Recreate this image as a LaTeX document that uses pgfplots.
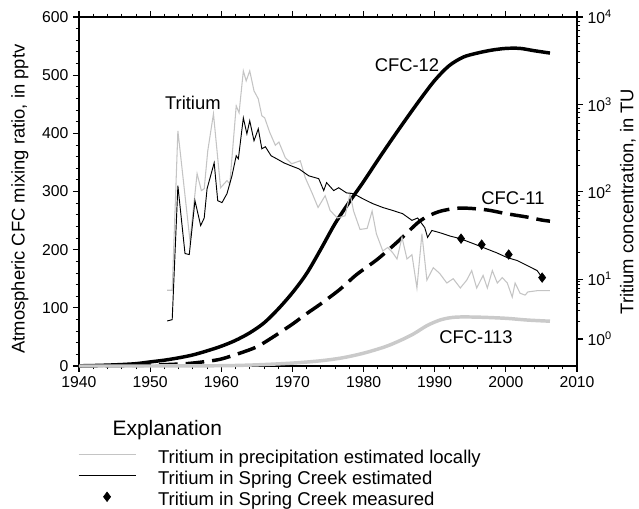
\documentclass[border=0pt]{standalone}
\usepackage{pgfplots}
\pgfplotsset{compat=1.18}
\usepackage{fontspec}
\setmainfont{Liberation Sans}
\definecolor{lgray}{HTML}{C4C4C4}
\definecolor{cgray}{HTML}{CACACA}
\pgfplotsset{
  markimage/.style={legend image code/.code={\draw[##1] plot coordinates {(21.4pt,3.3pt)};}},
}
% right axis of the reference: decades of equal length above 10 TU, a shorter decade below
\newcommand\tutrafo[1]{%
  \begingroup
  \pgfkeys{/pgf/fpu=true,/pgf/fpu/output format=fixed}%
  \pgfmathparse{(#1<10) ? (1-(1-log10(#1))*0.685714) : log10(#1)}%
  \global\let\turesult\pgfmathresult
  \endgroup
  \let\pgfmathresult\turesult}
\begin{document}
\begin{tikzpicture}
\path[use as bounding box] (-59.25pt,-107.25pt) rectangle (420pt,274.5pt);
\pgfplotsset{
  common/.style={
    at={(0,0)}, anchor=south west, scale only axis,
    width=373.5pt, height=261.75pt,
    xmin=1940, xmax=2010, clip=false,
    tick align=outside,
    major tick length=4.5pt, minor tick length=2.5pt,
    axis line style={line width=0.9pt},
    every major tick/.style={black, line width=0.8pt},
    every minor tick/.style={black, line width=0.6pt},
    tick label style={font=\fontsize{11.8}{14}\selectfont},
    /pgf/number format/assume math mode=true,
  }
}
\begin{axis}[common,
  ymin=0, ymax=600,
  xtick={1940,1950,...,2010}, minor x tick num=4,
  ytick={0,100,...,600}, minor y tick num=4,
  xtick pos=both, xticklabel pos=lower, ytick pos=left,
  xticklabel style={/pgf/number format/1000 sep={}},
  ylabel={Atmospheric CFC mixing ratio, in pptv},
  every axis y label/.style={at={(axis description cs:-0.1185,0.4785)}, anchor=center, rotate=90, font=\fontsize{13.8}{16}\selectfont},
]
% CFC-12
\addplot[black, line width=2.6pt, line join=round, smooth] coordinates {
(1940,0.3)(1942,0.8)(1944,1.5)(1946,2.5)(1948,4)(1950,7)(1952,10)(1954,14)(1956,19)(1958,26)(1960,34)(1962,44)(1964,57)(1966,74)(1968,98)(1970,126)(1972,159)(1974,201)(1976,245)(1978,282)(1980,317)(1982,354)(1984,390)(1986,425)(1988,459)(1990,491)(1992,516)(1994,531)(1996,538)(1998,543)(2000,546)(2002,546)(2004,542)(2006.2,538)};
% CFC-11
\addplot[black, line width=2.6pt, dash pattern=on 14pt off 6pt, smooth] coordinates {
(1940,0)(1945,0.5)(1950,1.5)(1955,4)(1958,8)(1960,12)(1962.6,22)(1965,33)(1967.3,50)(1970,72)(1972,90)(1974,107)(1976.7,132)(1979,157)(1982,184)(1985,216)(1988,250)(1990.5,265)(1993,271)(1995,271)(1997.5,268)(2000,262)(2003,256)(2005,251)(2006.2,249)};
% CFC-113
\addplot[cgray, line width=2.6pt, smooth] coordinates {
(1940,0)(1950,0)(1960,0.5)(1965,2)(1970,5)(1974,9)(1977,14)(1980,22)(1983,33)(1985,43)(1987,55)(1989,70)(1991,80)(1993,84)(1996,84)(2000,82)(2003,79)(2006.2,77)};
\node[font=\fontsize{13.8}{16}\selectfont] at (axis cs:1956.0,452) {Tritium};
\node[font=\fontsize{13.8}{16}\selectfont] at (axis cs:1986.1,517) {CFC-12};
\node[font=\fontsize{13.8}{16}\selectfont] at (axis cs:2001.0,289) {CFC-11};
\node[font=\fontsize{13.8}{16}\selectfont] at (axis cs:1995.8,50) {CFC-113};
\end{axis}
\begin{axis}[common,
  y coord trafo/.code={\tutrafo{#1}},
  ymin=0.354, ymax=10000,
  axis x line=none, axis y line*=right,
  ytick={1,10,100,1000,10000},
  yticklabels={{10\textsuperscript{0}},{10\textsuperscript{1}},{10\textsuperscript{2}},{10\textsuperscript{3}},{10\textsuperscript{4}}},
  minor ytick={2,3,4,5,6,7,8,9,20,30,40,50,60,70,80,90,200,300,400,500,600,700,800,900,2000,3000,4000,5000,6000,7000,8000,9000},
  ylabel={Tritium concentration, in TU},
  every axis y label/.style={at={(axis description cs:1.102,0.471)}, anchor=center, rotate=90, font=\fontsize{13.8}{16}\selectfont},
  legend style={at={(axis description cs:-0.002,-0.2364)}, anchor=north west, draw=none, fill=none,
     inner sep=0pt, outer sep=0pt, column sep=16.5pt, row sep=0pt,
     nodes={inner sep=0pt, outer sep=0pt, text height=11pt, text depth=4.8pt, font=\fontsize{13.9}{16}\selectfont}},
  legend cell align=left,
  legend image code/.code={\draw[#1] (0pt,3.3pt) -- (42.75pt,3.3pt);},
]
% Tritium in precipitation
\addplot[lgray, line width=0.8pt] coordinates {
(1952.4,6.5)(1953.1,6.5)(1953.9,498)(1955.6,27.5)(1956.6,161)(1957.2,103)(1957.6,108)(1958.1,294)(1958.9,779)(1959.9,111)(1960.8,134)(1961.2,123)(1962.1,961)(1962.5,800)(1963.1,2415)(1963.5,1857)(1964.0,2415)(1964.6,1427)(1965.2,1156)(1965.7,739)(1966.1,701)(1966.8,480)(1967.6,340)(1968.1,370)(1969.0,245)(1969.9,209)(1971.1,226)(1971.8,145)(1972.8,95)(1973.6,66)(1974.6,90)(1975.3,61)(1976.3,50)(1977.4,53)(1978.1,95)(1978.6,60)(1979.5,37)(1980.5,38)(1981.2,60)(1981.8,33)(1982.7,21)(1983.4,23)(1984.1,20)(1984.7,17)(1985.4,30)(1986.1,17)(1986.8,19)(1987.5,7.1)(1988.2,33)(1988.9,9.6)(1989.8,13.5)(1990.7,11.6)(1991.7,8.6)(1992.6,10.1)(1993.6,7.1)(1994.5,9.6)(1995.2,12.5)(1995.9,7.1)(1996.8,11)(1997.4,7.1)(1998.1,12.5)(1998.8,8.6)(1999.5,10.4)(2000.2,8.6)(2000.9,5.0)(2001.3,8.6)(2002.0,5.8)(2002.7,5.4)(2003.1,6.1)(2004.4,6.4)(2006.2,6.4)};
\addlegendentry{Tritium in precipitation estimated locally}
% Tritium in Spring Creek estimated
\addplot[black, line width=0.7pt] coordinates {
(1952.4,2.0)(1953.1,2.1)(1953.9,117)(1954.9,19.6)(1955.5,19.1)(1956.3,79)(1957.1,41)(1957.6,50)(1958.0,108)(1959.0,214)(1959.5,79)(1960.1,75)(1960.8,95)(1961.5,152)(1962.1,258)(1962.4,238)(1963.1,701)(1963.6,460)(1964.0,648)(1964.6,383)(1965.2,525)(1965.7,310)(1966.2,327)(1967.0,258)(1967.8,238)(1968.8,214)(1969.8,198)(1970.9,183)(1972.3,152)(1973.7,141)(1974.4,103)(1974.8,127)(1975.8,103)(1976.5,111)(1977.6,97)(1978.6,95)(1979.9,83)(1981.3,73)(1982.7,66)(1984.1,61)(1985.5,56)(1986.8,47)(1987.6,50)(1988.6,38.8)(1989.0,30)(1989.6,36)(1990.7,34)(1992.2,31)(1993.6,29)(1995.4,25.5)(1996.8,23)(1998.7,20)(2000.2,17.6)(2001.6,16.3)(2003.0,14.3)(2004.4,12.5)(2005.1,10.4)};
\addlegendentry{Tritium in Spring Creek estimated}
% Measured
\addplot[only marks, mark=diamond*, mark size=3.6pt, black, markimage] coordinates {
(1993.7,29)(1996.6,24.8)(2000.4,19.1)(2005.1,10.4)};
\addlegendentry{Tritium in Spring Creek measured}
\node[anchor=base west, font=\fontsize{15.7}{18}\selectfont] at (axis description cs:0.058,-0.1991) {Explanation};
\end{axis}
\end{tikzpicture}
\end{document}
